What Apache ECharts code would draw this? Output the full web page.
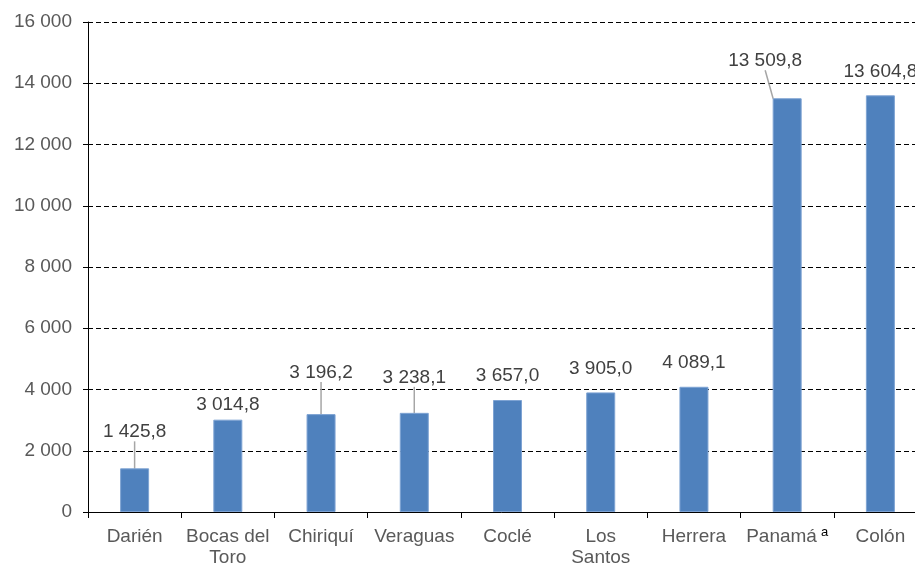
<!DOCTYPE html>
<html>
<head>
<meta charset="utf-8">
<script src="https://cdn.jsdelivr.net/npm/echarts@6/dist/echarts.min.js"></script>
<style>
  html, body { margin: 0; padding: 0; background: #fff; }
  #chart { width: 915px; height: 565px; }
</style>
</head>
<body>
<div id="chart"></div>
<script>
// datos
var provincias = ['Darién', 'Bocas del\nToro', 'Chiriquí', 'Veraguas', 'Coclé', 'Los\nSantos', 'Herrera', 'Panamá', 'Colón'];
var valores = [1425.8, 3014.8, 3196.2, 3238.1, 3657.0, 3905.0, 4089.1, 13509.8, 13604.8];
var ticksY = [0, 2000, 4000, 6000, 8000, 10000, 12000, 14000, 16000];

// desplazamiento de etiquetas [dx, dy] y si llevan línea guía
var desplaz = [[0, -22], [0, 0], [0, -27], [0, -21], [0, -10], [0, -9], [0, -10], [-22, -23], [0, -9]];
var conLinea = [true, false, true, true, false, false, false, true, false];

function fmt(v, dec) {
	var s = v.toFixed(dec).replace('.', ',');
	var p = s.split(',');
	p[0] = p[0].replace(/\B(?=(\d{3})+(?!\d))/g, ' ');
	return p.join(',');
}

var chart = echarts.init(document.getElementById('chart'));

var option = {
	animation: false,
	backgroundColor: '#fff',
	textStyle: { fontFamily: 'Liberation Sans, Arial, sans-serif' },
	grid: { left: 88, top: 22, width: 839, height: 490, outerBoundsMode: 'none', containLabel: false },
	xAxis: {
		type: 'category',
		data: provincias,
		axisLine: { lineStyle: { color: '#000', width: 1 } },
		axisTick: { show: true, length: 6, lineStyle: { color: '#000' } },
		axisLabel: {
			color: '#595959',
			fontSize: 19,
			lineHeight: 21,
			margin: 14,
			interval: 0,
			formatter: function(v) {
				if (v === 'Panamá') return 'Panamá{sup|a}';
				return v;
			},
			rich: {
				sup: { fontSize: 13, color: '#000', verticalAlign: 'top', padding: [0, 0, 14, 4] }
			}
		}
	},
	yAxis: {
		type: 'value',
		min: ticksY[0],
		max: ticksY[ticksY.length - 1],
		interval: 2000,
		axisLine: { show: true, lineStyle: { color: '#000', width: 1 } },
		axisTick: { show: true, length: 5, lineStyle: { color: '#000' } },
		axisLabel: {
			color: '#595959',
			fontSize: 19,
			margin: 16,
			formatter: function(v) { return fmt(v, 0); }
		},
		splitLine: { lineStyle: { color: '#000', type: [5, 3], width: 1 } }
	},
	series: [{
		type: 'bar',
		barWidth: 29,
		data: valores.map(function(v, i) {
			return {
				value: v,
				labelLine: { show: conLinea[i] }
			};
		}),
		itemStyle: { color: '#4F81BD', borderColor: '#7EA3D3', borderWidth: 1 },
		label: {
			show: true,
			position: 'top',
			distance: 5,
			color: '#404040',
			fontSize: 19,
			formatter: function(p) { return fmt(p.value, 1); }
		},
		labelLine: { show: true, lineStyle: { color: '#A6A6A6', width: 1.5 } },
		labelLayout: function(params) {
			var d = desplaz[params.dataIndex];
			return { dx: d[0], dy: d[1] };
		}
	}]
};

chart.setOption(option);
</script>
</body>
</html>
